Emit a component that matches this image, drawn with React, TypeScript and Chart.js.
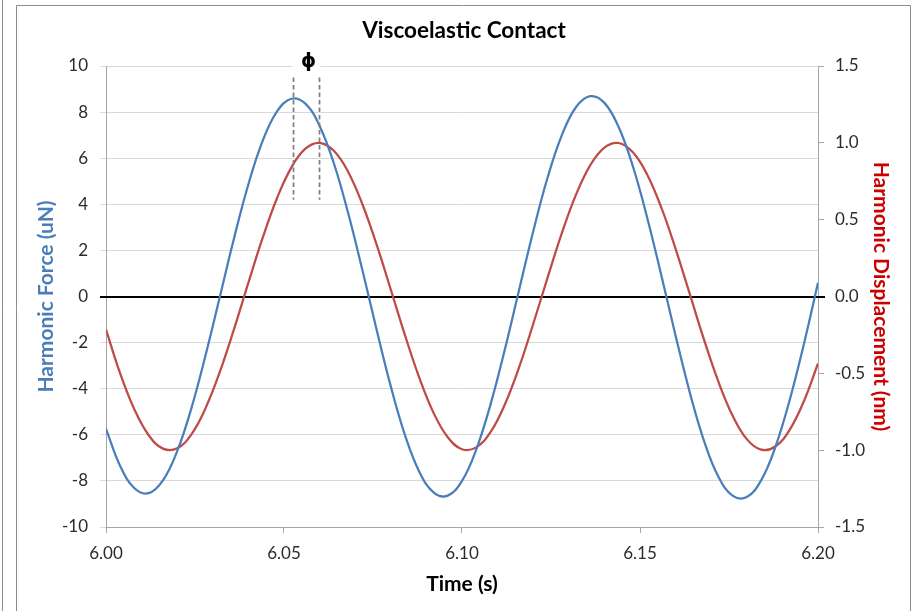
import React, { useEffect, useRef } from 'react';
import { Chart, registerables } from 'chart.js';

Chart.register(...registerables);

// ---- Data ----
const timeSeconds = [
  6.000, 6.004, 6.008, 6.012, 6.016, 6.020, 6.024, 6.028, 6.032, 6.036,
  6.040, 6.044, 6.048, 6.052, 6.056, 6.060, 6.064, 6.068, 6.072, 6.076,
  6.080, 6.084, 6.088, 6.092, 6.096, 6.100, 6.104, 6.108, 6.112, 6.116,
  6.120, 6.124, 6.128, 6.132, 6.136, 6.140, 6.144, 6.148, 6.152, 6.156,
  6.160, 6.164, 6.168, 6.172, 6.176, 6.180, 6.184, 6.188, 6.192, 6.196,
  6.200,
];

// Harmonic force (uN), left axis
const harmonicForce = [
  -5.74, -7.36, -8.32, -8.53, -7.98, -6.71, -4.84, -2.53, 0.0, 2.55,
  4.87, 6.75, 8.02, 8.58, 8.37, 7.40, 5.78, 3.63, 1.16, -1.43,
  -3.90, -6.02, -7.60, -8.50, -8.64, -8.00, -6.64, -4.69, -2.32, 0.26,
  2.82, 5.14, 6.98, 8.21, 8.69, 8.40, 7.35, 5.65, 3.43, 0.91,
  -1.70, -4.17, -6.27, -7.81, -8.64, -8.70, -7.98, -6.54, -4.52, -2.09,
  0.6,
];

// Harmonic displacement (nm), right axis
const harmonicDisplacement = [
  -0.215, -0.502, -0.736, -0.903, -0.990, -0.988, -0.897, -0.725, -0.489, -0.209,
  0.090, 0.381, 0.638, 0.837, 0.962, 1.000, 0.948, 0.812, 0.602, 0.339,
  0.045, -0.253, -0.528, -0.756, -0.916, -0.994, -0.982, -0.883, -0.704, -0.463,
  -0.179, 0.120, 0.409, 0.661, 0.853, 0.969, 0.999, 0.938, 0.794, 0.578,
  0.310, 0.015, -0.282, -0.553, -0.775, -0.928, -0.997, -0.976, -0.869, -0.683,
  -0.436,
];

// Phase-lag markers (peak times of force and displacement) and their vertical extent
const phaseMarkerTimes = [6.0526, 6.0598];
const phaseMarkerForceRange = [4.2, 9.5];
const phaseLabel = 'ϕ';

const timeTicks = { min: 6.0, max: 6.2, step: 0.05 };
const forceTicks = { min: -10, max: 10, step: 2 };
const displacementTicks = { min: -1.5, max: 1.5, step: 0.5 };

const chartTitle = 'Viscoelastic Contact';
const xTitle = 'Time (s)';
const leftTitle = 'Harmonic Force (uN)';
const rightTitle = 'Harmonic Displacement (nm)';

// ---- Styling ----
const FONT = "Lato, 'Open Sans', 'Liberation Sans', sans-serif";
const BLUE = '#4a7ebb';
const RED = '#be4b48';
const GRID = '#d9d9d9';
const AXIS = '#a6a6a6';
const TICK_TEXT = '#2b2b2b';

const framePlugin = {
  id: 'frame',
  beforeDraw(chart: any) {
    const { ctx, width, height } = chart;
    ctx.save();
    ctx.fillStyle = '#ffffff';
    ctx.fillRect(0, 0, width, height);
    ctx.strokeStyle = '#8c8c8c';
    ctx.lineWidth = 1;
    ctx.beginPath();
    ctx.moveTo(2.5, 0);
    ctx.lineTo(2.5, height);
    ctx.moveTo(16.5, height);
    ctx.lineTo(16.5, 5.5);
    ctx.lineTo(910.5, 5.5);
    ctx.lineTo(910.5, height);
    ctx.stroke();
    ctx.restore();
  },
  afterDraw(chart: any) {
    const { ctx } = chart;
    ctx.save();
    ctx.fillStyle = '#000000';
    ctx.font = `bold 22.5px ${FONT}`;
    ctx.textAlign = 'center';
    ctx.textBaseline = 'middle';
    ctx.fillText(chartTitle, 464, 31);
    ctx.restore();
  },
};

const zeroLinePlugin = {
  id: 'zeroLine',
  beforeDatasetsDraw(chart: any) {
    const { ctx, chartArea, scales } = chart;
    const y = Math.round(scales.y.getPixelForValue(0));
    ctx.save();
    ctx.strokeStyle = '#000000';
    ctx.lineWidth = 2;
    ctx.beginPath();
    ctx.moveTo(chartArea.left - 6, y);
    ctx.lineTo(chartArea.right + 7, y);
    ctx.stroke();
    ctx.restore();
  },
};

const phasePlugin = {
  id: 'phaseMarker',
  afterDatasetsDraw(chart: any) {
    const { ctx, scales, chartArea } = chart;
    const yTop = scales.y.getPixelForValue(phaseMarkerForceRange[1]);
    const yBot = scales.y.getPixelForValue(phaseMarkerForceRange[0]);
    ctx.save();
    ctx.strokeStyle = '#7f7f7f';
    ctx.lineWidth = 1.75;
    ctx.setLineDash([4.5, 3]);
    const xs = phaseMarkerTimes.map((t) => Math.round(scales.x.getPixelForValue(t)) + 0.5);
    xs.forEach((x) => {
      ctx.beginPath();
      ctx.moveTo(x, yTop);
      ctx.lineTo(x, yBot);
      ctx.stroke();
    });
    ctx.setLineDash([]);
    const mid = (xs[0] + xs[1]) / 2;
    ctx.fillStyle = '#ffffff';
    ctx.fillRect(mid - 14, chartArea.top - 12, 28, 14);
    ctx.fillStyle = '#000000';
    ctx.font = `bold 19px 'DejaVu Sans', ${FONT}`;
    ctx.textAlign = 'center';
    ctx.textBaseline = 'middle';
    ctx.fillText(phaseLabel, mid + 2, chartArea.top - 4);
    ctx.restore();
  },
};

export default function App() {
  const canvasRef = useRef<HTMLCanvasElement | null>(null);

  useEffect(() => {
    const canvas = canvasRef.current;
    if (!canvas) return;
    const forcePoints = timeSeconds.map((t, i) => ({ x: t, y: harmonicForce[i] }));
    const dispPoints = timeSeconds.map((t, i) => ({ x: t, y: harmonicDisplacement[i] }));

    const tickFont = { family: FONT, size: 17 };
    const titleFont = { family: FONT, size: 21, weight: 'bold' as const };

    const chart = new Chart(canvas, {
      type: 'line',
      data: {
        datasets: [
          {
            label: 'Harmonic Force',
            data: forcePoints,
            yAxisID: 'y',
            borderColor: BLUE,
            borderWidth: 2.25,
            pointRadius: 0,
            tension: 0.4,
            fill: false,
          },
          {
            label: 'Harmonic Displacement',
            data: dispPoints,
            yAxisID: 'y1',
            borderColor: RED,
            borderWidth: 2.25,
            pointRadius: 0,
            tension: 0.4,
            fill: false,
          },
        ],
      },
      options: {
        animation: false,
        responsive: false,
        devicePixelRatio: 1,
        layout: { padding: { left: 0, right: 0, top: 66, bottom: 0 } },
        plugins: {
          legend: { display: false },
          tooltip: { enabled: false },
          title: { display: false },
        },
        scales: {
          x: {
            type: 'linear',
            position: 'bottom',
            min: timeTicks.min,
            max: timeTicks.max,
            afterFit: (s: any) => { s.height = 84; },
            ticks: {
              stepSize: timeTicks.step,
              color: TICK_TEXT,
              font: tickFont,
              padding: 10,
              maxRotation: 0,
              callback: (v: any) => Number(v).toFixed(2),
            },
            grid: {
              drawOnChartArea: false,
              drawTicks: true,
              tickLength: 6,
              tickColor: AXIS,
            },
            border: { display: true, color: AXIS },
            title: {
              display: true,
              text: xTitle,
              color: '#000000',
              font: titleFont,
              padding: { top: 0, bottom: 14 },
            },
          },
          y: {
            type: 'linear',
            position: 'left',
            min: forceTicks.min,
            max: forceTicks.max,
            afterFit: (s: any) => { s.width = 106; },
            ticks: {
              stepSize: forceTicks.step,
              color: TICK_TEXT,
              font: tickFont,
              padding: 12,
            },
            grid: {
              color: GRID,
              tickColor: GRID,
              tickLength: 6,
            },
            border: { display: true, color: AXIS },
            title: {
              display: true,
              text: leftTitle,
              color: BLUE,
              font: titleFont,
              padding: { top: 34, bottom: 0 },
            },
          },
          y1: {
            type: 'linear',
            position: 'right',
            min: displacementTicks.min,
            max: displacementTicks.max,
            afterFit: (s: any) => { s.width = 99; },
            ticks: {
              stepSize: displacementTicks.step,
              color: TICK_TEXT,
              font: tickFont,
              padding: 11,
              callback: (v: any) => Number(v).toFixed(1),
            },
            grid: {
              drawOnChartArea: false,
              tickColor: AXIS,
              tickLength: 6,
            },
            border: { display: true, color: AXIS },
            title: {
              display: true,
              text: rightTitle,
              color: '#cc0000',
              font: titleFont,
              padding: { top: 24, bottom: 0 },
            },
          },
        },
      },
      plugins: [framePlugin, zeroLinePlugin, phasePlugin],
    } as any);

    return () => chart.destroy();
  }, []);

  return (
    <div style={{ position: 'absolute', left: 0, top: 0, width: 917, height: 611, background: '#fff' }}>
      <canvas ref={canvasRef} width={917} height={611} style={{ display: 'block' }} />
    </div>
  );
}
